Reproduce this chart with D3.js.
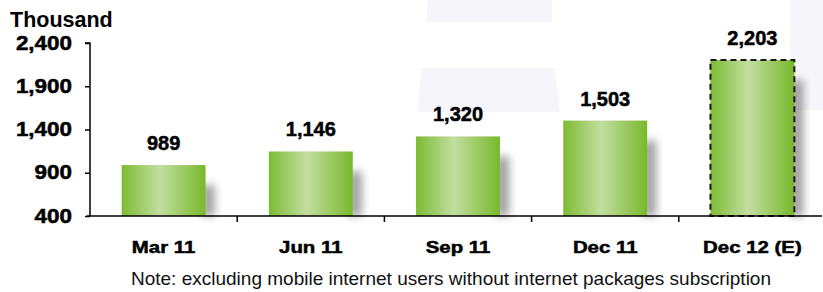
<!DOCTYPE html>
<html>
<head>
<meta charset="utf-8">
<script src="https://cdn.jsdelivr.net/npm/d3@7"></script>
<style>
  body { margin: 0; background: #fff; }
  text { font-family: Arial, "Liberation Sans", sans-serif; }
</style>
</head>
<body>
<div id="chart"></div>
<script>
// data
const categories = ["Mar 11", "Jun 11", "Sep 11", "Dec 11", "Dec 12 (E)"];
const users = [989, 1146, 1320, 1503, 2203];
const estimated = [false, false, false, false, true];
const yTicks = [400, 900, 1400, 1900, 2400];

const W = 823, H = 292;
const margin = {top: 43, right: -3, bottom: 76, left: 90};
const width = W - margin.left - margin.right;
const height = H - margin.top - margin.bottom;

const svg = d3.select("#chart").append("svg")
    .attr("width", W)
    .attr("height", H);

const defs = svg.append("defs");

// bar gradient
const grad = defs.append("linearGradient")
    .attr("id", "barGrad")
    .attr("x1", "0%").attr("x2", "100%").attr("y1", "0%").attr("y2", "0%");
grad.append("stop").attr("offset", "0%").attr("stop-color", "#7dbb33");
grad.append("stop").attr("offset", "45%").attr("stop-color", "#c2de9f");
grad.append("stop").attr("offset", "100%").attr("stop-color", "#79b82c");

// shadow blur
defs.append("filter").attr("id", "blur")
    .attr("x", "-50%").attr("y", "-50%").attr("width", "200%").attr("height", "200%")
    .append("feGaussianBlur").attr("stdDeviation", 4);

// faint watermark shapes in the background
const wm = svg.append("g").attr("fill", "#f5f5fa");
wm.append("polygon").attr("points", "428,0 552,0 552,22 426,22");
wm.append("polygon").attr("points", "421,68 555,68 560,112 418,112");
wm.append("polygon").attr("points", "790,0 823,0 823,110 790,110");

const g = svg.append("g")
    .attr("transform", `translate(${margin.left}, ${margin.top})`);

// scales
const x = d3.scaleBand()
    .domain(categories)
    .range([0, width])
    .paddingInner(0.43)
    .paddingOuter(0.215);

const y = d3.scaleLinear()
    .domain([400, 2400])
    .range([height, 0]);

// shadows
g.append("g").selectAll("rect").data(users).enter().append("rect")
    .attr("x", (d, i) => x(categories[i]) + x.bandwidth() - 4)
    .attr("y", d => y(d) + 20)
    .attr("width", 13)
    .attr("height", d => height - y(d) - 20)
    .attr("fill", "#808080")
    .attr("opacity", 0.75)
    .attr("filter", "url(#blur)");

// bars
g.append("g").selectAll("rect").data(users).enter().append("rect")
    .attr("x", (d, i) => x(categories[i]))
    .attr("y", d => y(d))
    .attr("width", x.bandwidth())
    .attr("height", d => height - y(d))
    .attr("fill", "url(#barGrad)")
    .attr("stroke", (d, i) => estimated[i] ? "#1a1a1a" : "none")
    .attr("stroke-width", 2)
    .attr("stroke-dasharray", "6,4");

// value labels
g.append("g").selectAll("text").data(users).enter().append("text")
    .attr("x", (d, i) => x(categories[i]) + x.bandwidth() / 2)
    .attr("y", d => y(d) - 15)
    .attr("text-anchor", "middle")
    .attr("font-size", 20)
    .attr("font-weight", "bold")
    .attr("fill", "#000")
    .attr("stroke", "#000")
    .attr("stroke-width", 0.5)
    .text(d => d3.format(",")(d));

// y axis
const yAxis = g.append("g")
    .call(d3.axisLeft(y).tickValues(yTicks).tickSize(5).tickFormat(d3.format(",")));
yAxis.select(".domain").attr("stroke", "#000").attr("stroke-width", 1.5).attr("d", `M-5,0H0V${height}`);
yAxis.selectAll(".tick line").attr("stroke", "#000").attr("stroke-width", 1.5);
yAxis.selectAll(".tick text")
    .attr("x", 0)
    .attr("transform", "translate(-18,0) scale(1.15,1)")
    .attr("font-size", 19.5)
    .attr("font-weight", "bold")
    .attr("fill", "#000")
    .attr("stroke", "#000")
    .attr("stroke-width", 0.5)
    .attr("font-family", "Arial, 'Liberation Sans', sans-serif");

// x axis
const xAxis = g.append("g")
    .attr("transform", `translate(0, ${height})`)
    .call(d3.axisBottom(x).tickSize(0));
xAxis.select(".domain").attr("stroke", "#000").attr("stroke-width", 1.5).attr("d", `M-3,0H${width - 4}`);
xAxis.selectAll(".tick text")
    .attr("y", 37)
    .attr("dy", 0)
    .attr("transform", "scale(1.2,1)")
    .attr("font-size", 17)
    .attr("font-weight", "bold")
    .attr("fill", "#000")
    .attr("stroke", "#000")
    .attr("stroke-width", 0.5)
    .attr("font-family", "Arial, 'Liberation Sans', sans-serif");

// separator ticks between categories
const step = x.step();
xAxis.append("g").selectAll("line").data(categories.slice(1)).enter().append("line")
    .attr("x1", d => x(d) - (step - x.bandwidth()) / 2)
    .attr("x2", d => x(d) - (step - x.bandwidth()) / 2)
    .attr("y1", 0).attr("y2", 6)
    .attr("stroke", "#000").attr("stroke-width", 1.5);

// unit title
svg.append("text")
    .attr("x", 10).attr("y", 27)
    .attr("font-size", 21.5)
    .attr("font-weight", "bold")
    .text("Thousand");

// note
svg.append("text")
    .attr("x", 451).attr("y", 285)
    .attr("text-anchor", "middle")
    .attr("font-size", 19)
    .attr("fill", "#111")
    .text("Note: excluding mobile internet users without internet packages subscription");
</script>
</body>
</html>
